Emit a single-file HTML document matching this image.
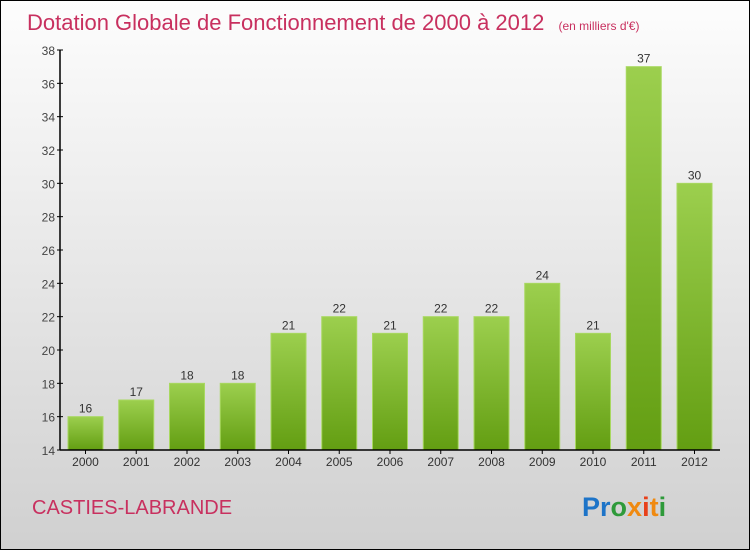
<!DOCTYPE html>
<html><head><meta charset="utf-8"><style>
body{margin:0}
#c{width:750px;height:550px;position:relative;box-sizing:border-box;border:1px solid #000;background:linear-gradient(#fdfdfd,#d0d0d0);font-family:"Liberation Sans",sans-serif;overflow:hidden}
</style></head><body>
<div id="c">
<svg width="750" height="550" style="position:absolute;left:-1px;top:-1px">
<defs><linearGradient id="g" x1="0" y1="0" x2="0" y2="1"><stop offset="0" stop-color="#9ccf4e"/><stop offset="1" stop-color="#639e12"/></linearGradient></defs>
<text x="27" y="30" font-size="22" fill="#c8305f">Dotation Globale de Fonctionnement de 2000 à 2012 <tspan font-size="12" dx="8">(en milliers d'€)</tspan></text>
<g id="plot"></g>
<text x="32" y="514" font-size="20" fill="#c8305f">CASTIES-LABRANDE</text>
<text x="582" y="516" font-size="27" font-weight="bold"><tspan fill="#1d74c8">Pr</tspan><tspan fill="#2e9a3a">o</tspan><tspan fill="#f08a10">x</tspan><tspan fill="#e8401a">i</tspan><tspan fill="#f08a10">t</tspan><tspan fill="#2e9a3a">i</tspan></text>
</svg>
</div>
<script>
const categories=["2000","2001","2002","2003","2004","2005","2006","2007","2008","2009","2010","2011","2012"];
const values=[16,17,18,18,21,22,21,22,22,24,21,37,30];
const yTicks=[14,16,18,20,22,24,26,28,30,32,34,36,38];
const ns="http://www.w3.org/2000/svg",p=document.getElementById("plot");
const y=v=>450-(v-14)*(400/24), x=i=>85.5+i*50.75;
function mk(t,a,txt){const e=document.createElementNS(ns,t);for(const k in a)e.setAttribute(k,a[k]);if(txt!=null)e.textContent=txt;p.appendChild(e);return e;}
yTicks.forEach(t=>{
const tk=mk("line",{x1:57,x2:63,y1:y(t),y2:y(t),stroke:"#000"});


const l=mk("text",{x:55,y:y(t)+5,"text-anchor":"end","font-size":12,fill:"#444"},t);


});
categories.forEach((c,i)=>{
const v=values[i];
const b=mk("rect",{x:x(i)-17.5,y:y(v),width:35,height:450-y(v),fill:"url(#g)",stroke:"#a8d860","stroke-width":1});


const vl=mk("text",{x:x(i),y:y(v)-4,"text-anchor":"middle","font-size":12,fill:"#333"},v);


const tk=mk("line",{x1:x(i),x2:x(i),y1:450,y2:454,stroke:"#000"});


const xl=mk("text",{x:x(i),y:466,"text-anchor":"middle","font-size":12,fill:"#333"},c);


});
const ya=mk("line",{x1:60,x2:60,y1:50,y2:450,stroke:"#000","stroke-width":1.5});


const xa=mk("line",{x1:60,x2:720,y1:450,y2:450,stroke:"#000","stroke-width":1.5});


</script>
</body></html>
